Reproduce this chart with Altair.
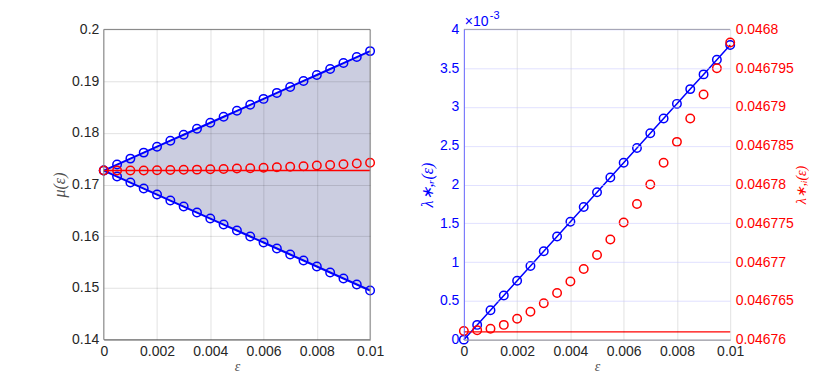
import altair as alt
import pandas as pd

# ---------------- data ----------------
eps = [0.0, 0.0005, 0.001, 0.0015, 0.002, 0.0025, 0.003, 0.0035, 0.004, 0.0045, 0.005,
       0.0055, 0.006, 0.0065, 0.007, 0.0075, 0.008, 0.0085, 0.009, 0.0095, 0.01]

mu_upper = [0.1727, 0.17386, 0.17501, 0.17617, 0.17732, 0.17848, 0.17963, 0.18079, 0.18194,
            0.1831, 0.18425, 0.18541, 0.18656, 0.18772, 0.18887, 0.19003, 0.19118, 0.19234,
            0.19349, 0.19465, 0.1958]
mu_lower = [0.1727, 0.17154, 0.17038, 0.16922, 0.16806, 0.1669, 0.16574, 0.16458, 0.16342,
            0.16226, 0.1611, 0.15994, 0.15878, 0.15762, 0.15646, 0.1553, 0.15414, 0.15298,
            0.15182, 0.15066, 0.1495]
mu_red = [0.1727, 0.1727, 0.17272, 0.17273, 0.17276, 0.17279, 0.17284, 0.17288, 0.17294,
          0.173, 0.17308, 0.17315, 0.17324, 0.17333, 0.17344, 0.17354, 0.17366, 0.17378,
          0.17392, 0.17405, 0.1742]
base_x = [0.0, 0.01]
mu_base = [0.1727, 0.1727]

lam_r = [0.0, 0.00019, 0.00038, 0.00057, 0.00076, 0.00095, 0.00114, 0.00133, 0.00152, 0.00171,
         0.0019, 0.00209, 0.00228, 0.00247, 0.00266, 0.00285, 0.00304, 0.00323, 0.00342,
         0.00361, 0.0038]
lam_i = [0.0467611, 0.0467612, 0.0467614, 0.0467619, 0.0467627, 0.0467636, 0.0467647, 0.046766,
         0.0467675, 0.0467691, 0.0467709, 0.0467729, 0.0467751, 0.0467775, 0.04678, 0.0467828,
         0.0467855, 0.0467885, 0.0467916, 0.046795, 0.0467983]
lam_i_base = [0.046761, 0.046761]

x_ticks = [0, 0.002, 0.004, 0.006, 0.008, 0.01]
mu_ticks = [0.14, 0.15, 0.16, 0.17, 0.18, 0.19, 0.2]
lr_ticks = [0, 0.0005, 0.001, 0.0015, 0.002, 0.0025, 0.003, 0.0035, 0.004]
li_ticks = [0.04676, 0.046765, 0.04677, 0.046775, 0.04678, 0.046785, 0.04679, 0.046795, 0.0468]

# ---------------- style ----------------
W, H = 267, 311
BLUE = "#0000ff"
RED = "#ff0000"
LBL = "#262626"
TTL = "#505050"
FONT = "Liberation Sans"
SERIF = "Liberation Serif"

dfL = pd.DataFrame({"eps": eps, "up": mu_upper, "lo": mu_lower, "red": mu_red})
dfLb = pd.DataFrame({"eps": base_x, "v": mu_base})
dfR = pd.DataFrame({"eps": eps, "r": lam_r, "i": lam_i})
dfRb = pd.DataFrame({"eps": base_x, "v": lam_i_base})
one = pd.DataFrame({"a": [0]})

def x_enc():
    return alt.X("eps:Q", scale=alt.Scale(domain=[0, 0.01], nice=False, zero=False),
                 axis=alt.Axis(values=x_ticks, format="~g", title="ε", labelFlush=False,
                               labelOverlap=False, gridColor="#000000", gridOpacity=0.12,
                               zindex=1, domain=True, domainColor="#8a8a8a", domainWidth=1,
                               labelPadding=5, titlePadding=1, titleFontSize=14))

# ---------------- left panel ----------------
yL_axis = alt.Axis(values=mu_ticks, format="~g", title="μ(ε)", titlePadding=4,
                   gridColor="#000000", gridOpacity=0.12, zindex=1, domain=False,
                   labelOverlap=False)
yL_scale = alt.Scale(domain=[0.14, 0.2], nice=False, zero=False)

def yL(field):
    return alt.Y(f"{field}:Q", scale=yL_scale, axis=yL_axis)

xL = x_enc()
area = alt.Chart(dfL).mark_area(color="#cbcde0", opacity=1).encode(x=xL, y=yL("up"), y2="lo:Q")
line_up = alt.Chart(dfL).mark_line(color=BLUE, strokeWidth=2).encode(x=xL, y=yL("up"))
line_lo = alt.Chart(dfL).mark_line(color=BLUE, strokeWidth=2).encode(x=xL, y=yL("lo"))
pt_kw = dict(shape="circle", filled=False, size=72, strokeWidth=1.5, opacity=1)
pts_up = alt.Chart(dfL).mark_point(color=BLUE, **pt_kw).encode(x=xL, y=yL("up"))
pts_lo = alt.Chart(dfL).mark_point(color=BLUE, **pt_kw).encode(x=xL, y=yL("lo"))
red_line = alt.Chart(dfLb).mark_line(color=RED, strokeWidth=1.5).encode(x=xL, y=yL("v"))
red_pts = alt.Chart(dfL).mark_point(color=RED, **pt_kw).encode(x=xL, y=yL("red"))
frame = alt.Chart(one).mark_rect(fill=None, stroke="#8a8a8a", strokeWidth=1).encode(
    x=alt.value(0), x2=alt.value(W), y=alt.value(0), y2=alt.value(H))

left = alt.layer(area, line_up, line_lo, pts_up, pts_lo, red_line, red_pts, frame).properties(
    width=W, height=H)

# ---------------- right panel ----------------
xR = x_enc()
yR_axis = alt.Axis(values=lr_ticks, labelExpr="format(datum.value*1000, '~g')",
                   title="λ∗,ᵣ(ε)", titlePadding=4, labelColor=BLUE, titleColor=BLUE,
                   gridColor="#c8c8ff", gridOpacity=0.55, zindex=1, domain=True,
                   domainColor="#6a6aff", domainWidth=1, labelOverlap=False)
yR = alt.Y("r:Q", scale=alt.Scale(domain=[0, 0.004], nice=False, zero=False), axis=yR_axis)

blue_line = alt.Chart(dfR).mark_line(color=BLUE, strokeWidth=1.5).encode(x=xR, y=yR)
blue_pts = alt.Chart(dfR).mark_point(color=BLUE, **pt_kw).encode(x=xR, y=yR)
top_rule = alt.Chart(one).mark_rule(color="#8a8a8a", strokeWidth=1).encode(
    x=alt.value(0), x2=alt.value(W), y=alt.value(0))
exp_base = alt.Chart(one).mark_text(text="×10", color=BLUE, font=FONT, fontSize=14,
                                    align="left", baseline="alphabetic").encode(
    x=alt.value(1), y=alt.value(-3))
exp_sup = alt.Chart(one).mark_text(text="-3", color=BLUE, font=FONT, fontSize=11,
                                   align="left", baseline="alphabetic").encode(
    x=alt.value(26), y=alt.value(-10))
blue_layer = alt.layer(blue_line, blue_pts, top_rule, exp_base, exp_sup)

yI_axis = alt.Axis(values=li_ticks, format="~g", orient="right", title="λ∗,ᵢ(ε)",
                   titleAngle=270, titleBaseline="top", titlePadding=1, titleFontSize=14,
                   labelColor=RED, titleColor=RED, grid=False, domain=False,
                   labelOverlap=False)
yI_scale = alt.Scale(domain=[0.04676, 0.0468], nice=False, zero=False)
red_base = alt.Chart(dfRb).mark_line(color=RED, strokeWidth=1.5).encode(
    x=xR, y=alt.Y("v:Q", scale=yI_scale, axis=yI_axis))
red_pts_r = alt.Chart(dfR).mark_point(color=RED, **pt_kw).encode(
    x=xR, y=alt.Y("i:Q", scale=yI_scale, axis=yI_axis))
red_layer = alt.layer(red_base, red_pts_r)

right = alt.layer(blue_layer, red_layer).resolve_scale(y="independent").properties(
    width=W, height=H)

chart = alt.hconcat(left, right, spacing=35).properties(
    padding={"left": 43, "top": 2, "right": 0, "bottom": 0}
).configure_view(stroke=None).configure_axis(
    labelFont=FONT, labelFontSize=14, labelColor=LBL, labelPadding=5,
    titleFont=SERIF, titleFontSize=16, titleFontStyle="italic", titleFontWeight="normal",
    titleColor=TTL, ticks=False
)

chart.save("out.html", embed_options={"renderer": "svg", "actions": False})
